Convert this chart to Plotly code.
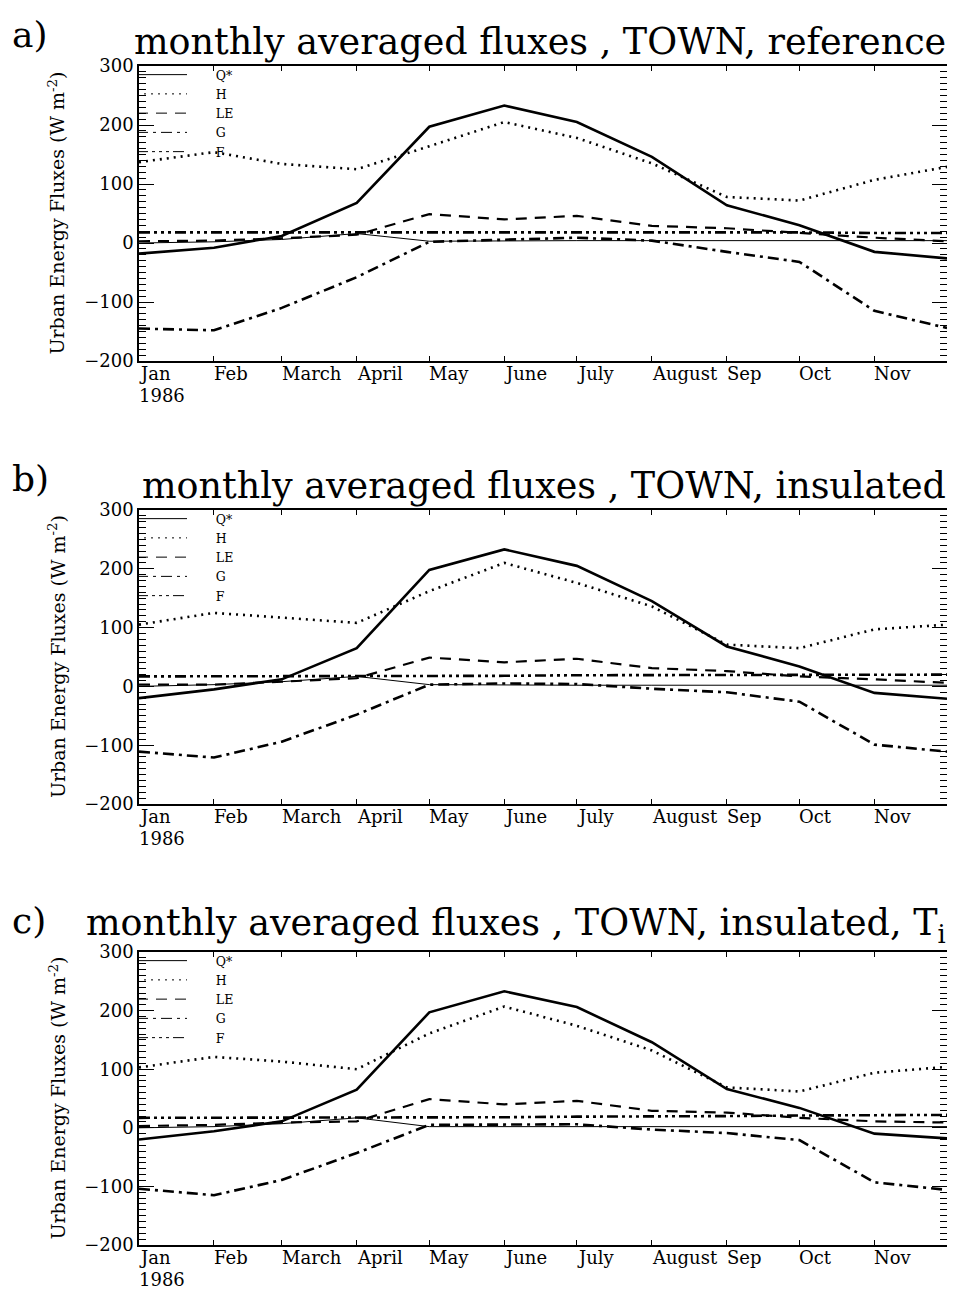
import plotly.graph_objects as go
from plotly.subplots import make_subplots

# monthly means plotted at the first day of each month, Dec 1 closes the axis
months = ["1986-01-01", "1986-02-01", "1986-03-01", "1986-04-01", "1986-05-01", "1986-06-01",
          "1986-07-01", "1986-08-01", "1986-09-01", "1986-10-01", "1986-11-01", "1986-12-01"]
month_labels = ["Jan", "Feb", "March", "April", "May", "June", "July", "August", "Sep", "Oct", "Nov"]
year_label = "1986"

series_names = ["Q*", "H", "LE", "G", "F"]

# a) reference
qstar_ref = [-18, -8, 12, 68, 197, 233, 205, 146, 64, 30, -15, -26]
h_ref = [137, 154, 134, 125, 164, 205, 178, 135, 78, 72, 107, 129]
le_ref = [3, 4, 8, 14, 49, 40, 46, 29, 25, 17, 9, 3]
g_ref = [-145, -148, -110, -58, 2, 5, 9, 4, -15, -32, -115, -144]
f_ref = [18, 18, 18, 18, 18, 18, 18, 19, 19, 18, 17, 17]
thin_ref = [0, 2, 6, 16, 3, 4, 4, 4, 4, 4, 4, 4]

# b) insulated
qstar_ins = [-20, -5, 12, 65, 198, 233, 205, 145, 68, 34, -11, -21]
h_ins = [105, 125, 117, 108, 162, 210, 176, 136, 71, 65, 97, 105]
le_ins = [3, 3, 8, 14, 49, 41, 47, 31, 26, 17, 12, 6]
g_ins = [-111, -121, -94, -48, 3, 5, 4, -4, -10, -26, -99, -111]
f_ins = [17, 17, 17, 18, 18, 18, 19, 19, 20, 20, 20, 20]
thin_ins = [0, 3, 8, 17, 3, 2, 2, 2, 2, 2, 2, 2]

# c) insulated, T_i
qstar_ti = [-20, -6, 11, 65, 197, 233, 206, 146, 66, 34, -10, -18]
h_ti = [103, 121, 113, 100, 161, 207, 174, 132, 69, 62, 94, 104]
le_ti = [3, 5, 9, 11, 49, 40, 46, 29, 26, 17, 11, 9]
g_ti = [-104, -115, -89, -43, 5, 6, 6, -3, -9, -21, -93, -106]
f_ti = [17, 17, 17, 18, 18, 18, 19, 19, 20, 21, 22, 22]
thin_ti = [0, 2, 7, 17, 2, 2, 2, 2, 2, 2, 2, 2]

panels = [
    ("a)", "monthly averaged fluxes , TOWN, reference",
     [qstar_ref, h_ref, le_ref, g_ref, f_ref], thin_ref),
    ("b)", "monthly averaged fluxes , TOWN, insulated",
     [qstar_ins, h_ins, le_ins, g_ins, f_ins], thin_ins),
    ("c)", "monthly averaged fluxes , TOWN, insulated, T<sub>i</sub>",
     [qstar_ti, h_ti, le_ti, g_ti, f_ti], thin_ti),
]

line_styles = [
    dict(dash="solid", width=2.6),
    dict(dash="2px,5px", width=2.6),
    dict(dash="11px,8px", width=2.2),
    dict(dash="11px,5px,3px,5px", width=2.6),
    dict(dash="11px,4px,3px,4px,3px,4px,3px,4px", width=2.6),
]

# the page body adds an 8px margin, so the figure is 8px smaller and all
# reference pixel positions are shifted by -8
OFF = 8
W, H = 955 - OFF, 1293 - OFF
ML, MR = 139 - OFF, 8
# reference pixel rows of each panel frame (top, bottom)
frames = [(66, 361), (510, 804), (952, 1245)]


def py(v):
    return 1 - (v - OFF) / H


def px_(v):
    return (v - OFF - ML) / (W - ML - MR)


serif = "DejaVu Serif"
pad = "\u00a0" * 6
fig = make_subplots(rows=3, cols=1)

for i, (tag, title, values, thin) in enumerate(panels):
    row = i + 1
    leg = "legend" if i == 0 else f"legend{row}"
    # unlabelled thin solid curve
    fig.add_trace(go.Scatter(x=months, y=thin, mode="lines",
                             line=dict(color="black", width=1), showlegend=False),
                  row=row, col=1)
    for name, vals, st in zip(series_names, values, line_styles):
        fig.add_trace(go.Scatter(x=months, y=vals, mode="lines", name=name,
                                 line=dict(color="black", **st), showlegend=False),
                      row=row, col=1)
        # thin legend sample
        fig.add_trace(go.Scatter(x=[None], y=[None], mode="lines", name=pad + name, legend=leg,
                                 line=dict(color="black", width=1, dash=st["dash"])),
                      row=row, col=1)

    top, bot = frames[i]
    fig.update_yaxes(domain=[py(bot), py(top)], row=row, col=1)
    fig.update_layout({leg: dict(x=px_(132), y=py(top - 6), xanchor="left", yanchor="top",
                                 bgcolor="rgba(0,0,0,0)", itemwidth=50, tracegroupgap=0,
                                 borderwidth=0,
                                 font=dict(family=serif, size=12.5, color="black"))})

    xa = "x" if i == 0 else f"x{row}"
    # month labels, left-aligned on their tick like the original
    for m, lab in zip(months, month_labels):
        fig.add_annotation(x=m, xref=xa, y=py(bot), yref="paper", text=lab,
                           showarrow=False, xanchor="left", yanchor="top", xshift=-2,
                           font=dict(family=serif, size=18, color="black"))
    fig.add_annotation(x=months[0], xref=xa, y=py(bot + 22), yref="paper", text=year_label,
                       showarrow=False, xanchor="left", yanchor="top", xshift=-2,
                       font=dict(family=serif, size=18, color="black"))
    # y title
    fig.add_annotation(x=px_(57), xref="paper", y=py((top + bot) / 2), yref="paper",
                       text="Urban Energy Fluxes (W m<sup>-2</sup>)", textangle=-90,
                       showarrow=False, xanchor="center", yanchor="middle",
                       font=dict(family=serif, size=19, color="black"))
    # panel title
    fig.add_annotation(x=1.0, xref="paper", y=py(top - 2), yref="paper", text=title,
                       showarrow=False, xanchor="right", yanchor="bottom", borderpad=0,
                       font=dict(family=serif, size=36.5, color="black"))
    # panel tag
    fig.add_annotation(x=px_(11), xref="paper", y=py(top - 10), yref="paper", text=tag,
                       showarrow=False, xanchor="left", yanchor="bottom", borderpad=0,
                       font=dict(family=serif, size=36, color="black"))

fig.update_xaxes(type="date", range=[months[0], months[-1]], tickvals=months,
                 showticklabels=False, ticks="inside", ticklen=5, tickcolor="black",
                 showline=True, linecolor="black", linewidth=1.5, mirror="ticks",
                 showgrid=False, zeroline=False, automargin=False)
fig.update_yaxes(range=[-200, 300], tickvals=[-200, -100, 0, 100, 200, 300],
                 ticks="inside", ticklen=15, tickcolor="black",
                 minor=dict(dtick=10, ticks="inside", ticklen=7, tickcolor="black"),
                 showline=True, linecolor="black", linewidth=1.5, mirror="ticks",
                 showgrid=False, zeroline=False, automargin=False,
                 tickfont=dict(family=serif, size=18, color="black"))

fig.update_layout(width=W, height=H, margin=dict(l=ML, r=MR, t=0, b=0, autoexpand=False),
                  plot_bgcolor="white", paper_bgcolor="white")

fig.write_html("out.html")
